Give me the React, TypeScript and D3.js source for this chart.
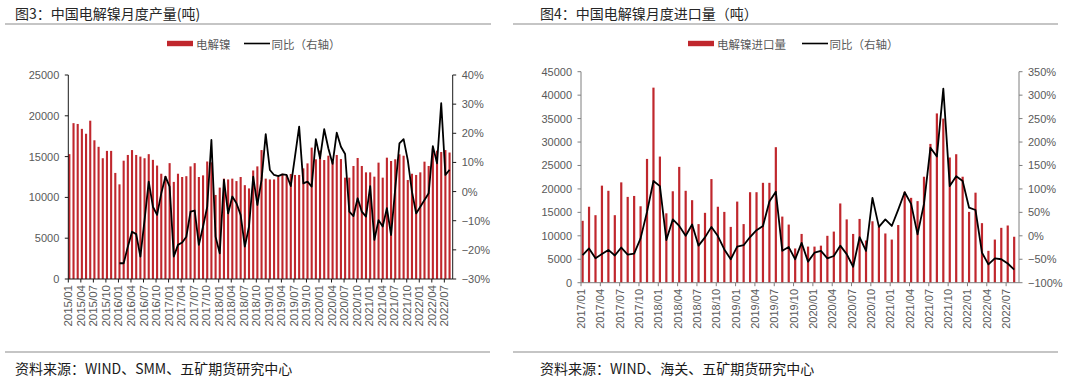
import React from "react";
import * as d3 from "d3";

// ---------- Chart 1 data (2015/01 - 2022/08) ----------
const prodMonths: string[] = (() => {
  const out: string[] = [];
  for (let y = 2015; y <= 2022; y++)
    for (let m = 1; m <= 12; m++) {
      if (y === 2022 && m > 8) break;
      out.push(`${y}/${String(m).padStart(2, "0")}`);
    }
  return out;
})();

const prodValues: number[] = [
  15300, 19100, 19000, 18400, 17800, 19400, 17000, 16200, 14800, 15700, 15700, 13000,
  11600, 14500, 15200, 15800, 15200, 15000, 14800, 15300, 14600, 13900, 12900, 12600,
  14200, 11900, 12900, 12500, 12600, 13800, 14200, 12500, 12700, 14400, 14300, 10300,
  11200, 12300, 12200, 12300, 12000, 12500, 11500, 11100, 13300, 13800, 15800, 12300,
  12200, 12200, 12500, 12900, 12750, 12870, 12750, 12750, 13560, 14170, 16100, 14670,
  15730, 14580, 15110, 14380, 15200, 14700, 12420, 12420, 13850, 14830, 13850, 13070,
  13070, 12540, 14260, 12420, 14870, 14460, 14670, 15280, 15110, 12130, 12900, 12750,
  13070, 14380, 13850, 16000, 15730, 15560, 15800, 15500,
];

// YoY %, null for 2015 (no prior year)
const prodYoY: (number | null)[] = [
  null, null, null, null, null, null, null, null, null, null, null, null,
  -24.6, -24.6, -18.9, -13.8, -14.6, -22.3, -9.8, 3.4, -5.2, -8.0, -0.6, 5.1,
  1.7, -22.3, -18.3, -17.5, -15.5, -6.9, -6.5, -18.3, -12.0, -5.2, 17.7, -15.5,
  -21.2, 4.0, -7.5, -1.7, -4.0, -8.0, -18.9, -12.0, 5.1, -4.6, 4.0, 19.7,
  7.4, 5.7, 5.3, 5.9, 5.7, 1.9, 12.0, 22.3, 2.8, 3.4, 1.7, 18.0,
  11.4, 21.4, 14.8, 9.5, 20.2, 15.4, 12.9, -6.9, -8.4, -2.3, -6.9, -8.6,
  1.9, -16.6, -9.8, -12.0, -5.7, -14.9, 1.1, 16.5, 18.0, 10.8, 0.0, -7.5,
  -5.2, -2.9, -0.6, 15.6, 9.7, 30.3, 5.7, 7.5,
];

const prodLeftTicks: number[] = [0, 5000, 10000, 15000, 20000, 25000];
const prodRightTicks: number[] = [-30, -20, -10, 0, 10, 20, 30, 40];

// ---------- Chart 2 data (2017/01 - 2022/08) ----------
const impMonths: string[] = (() => {
  const out: string[] = [];
  for (let y = 2017; y <= 2022; y++)
    for (let m = 1; m <= 12; m++) {
      if (y === 2022 && m > 8) break;
      out.push(`${y}/${String(m).padStart(2, "0")}`);
    }
  return out;
})();

const impValues: number[] = [
  13200, 16200, 14400, 20700, 19600, 14400, 21400, 18300, 18500, 16300, 26400, 41600,
  26900, 14800, 19500, 24700, 19600, 17600, 12500, 14900, 22100, 16200, 15100, 11900,
  17300, 12500, 19300, 19300, 21300, 21300, 28900, 14100, 12400, 7300, 10400, 7700,
  7700, 7900, 10000, 10900, 16900, 13500, 10400, 13600, 9000, 13100, 11900, 10500,
  9200, 12300, 19400, 18100, 17400, 22600, 29600, 36100, 35000, 26700, 27400, 22600,
  15100, 19200, 12700, 6800, 9200, 11700, 12200, 9800,
];

const impYoY: number[] = [
  -41, -27, -48, -39, -30, -42, -25, -40, -38, -5.5, 51, 117,
  106, -9, 35, 21, 0.2, 24, -21, -3.3, 19, -0.5, -29, -50,
  -23, -20, -2.6, 12, 21, 73, 94, -32, -24, -50, -15, -55,
  -36, -32, -48, -43, -21, -39, -66, -3, -32, 81, 19, 35,
  21, 56, 93, 68, 3, 68, 188, 169, 314, 106, 127, 117,
  60, 55, -36, -61, -48, -50, -59, -72,
];

const impLeftTicks: number[] = [0, 5000, 10000, 15000, 20000, 25000, 30000, 35000, 40000, 45000];
const impRightTicks: number[] = [-100, -50, 0, 50, 100, 150, 200, 250, 300, 350];

const BAR = "#C0272D";
const TXT = "#595959";
const NUMFONT = "Arial, 'Liberation Sans', sans-serif";
const CJK = "'Noto Sans CJK SC', 'Noto Sans', sans-serif";

type ChartProps = {
  months: string[];
  values: number[];
  yoy: (number | null)[];
  leftTicks: number[];
  rightTicks: number[];
  leftDomain: [number, number];
  rightDomain: [number, number];
  x0: number;
  x1: number;
  yTop: number;
  yBot: number;
  barW: number;
  axisColor: string;
  xFont: number;
  labelTop: number;
};

function ComboChart(p: ChartProps) {
  const band = d3
    .scaleBand<string>()
    .domain(p.months)
    .range([p.x0, p.x1])
    .paddingInner(0)
    .paddingOuter(0);
  const step = band.step();
  const px = (m: string) => (band(m) as number) + step * 0.25;
  const yL = d3.scaleLinear().domain(p.leftDomain).range([p.yBot, p.yTop]);
  const yR = d3.scaleLinear().domain(p.rightDomain).range([p.yBot, p.yTop]);

  const lineGen = d3
    .line<number | null>()
    .defined((d) => d !== null)
    .x((_, i) => px(p.months[i]))
    .y((d) => yR(d as number));

  return (
    <g>
      {p.values.map((v, i) => (
        <rect
          key={i}
          x={px(p.months[i]) - p.barW / 2}
          y={yL(v)}
          width={p.barW}
          height={p.yBot - yL(v)}
          fill={BAR}
        />
      ))}
      <path d={lineGen(p.yoy) || ""} fill="none" stroke="#000" strokeWidth={1.8} strokeLinejoin="round" />
      {/* axes */}
      <line x1={p.x0} x2={p.x0} y1={p.yTop} y2={p.yBot} stroke={p.axisColor} strokeWidth={1} />
      <line x1={p.x1} x2={p.x1} y1={p.yTop} y2={p.yBot} stroke={p.axisColor} strokeWidth={1} />
      <line x1={p.x0} x2={p.x1} y1={p.yBot} y2={p.yBot} stroke={p.axisColor} strokeWidth={1} />
      {p.leftTicks.map((t) => (
        <g key={"l" + t}>
          <line x1={p.x0 - 3.5} x2={p.x0} y1={yL(t)} y2={yL(t)} stroke={p.axisColor} />
          <text
            x={p.x0 - 9}
            y={yL(t)}
            textAnchor="end"
            dominantBaseline="central"
            fontSize={11}
            fontFamily={NUMFONT}
            fill={TXT}
          >
            {t}
          </text>
        </g>
      ))}
      {p.rightTicks.map((t) => (
        <g key={"r" + t}>
          <line x1={p.x1} x2={p.x1 + 3.5} y1={yR(t)} y2={yR(t)} stroke={p.axisColor} />
          <text
            x={p.x1 + 9}
            y={yR(t)}
            textAnchor="start"
            dominantBaseline="central"
            fontSize={11}
            fontFamily={NUMFONT}
            fill={TXT}
          >
            {(t < 0 ? "\u2212" + Math.abs(t) : String(t)) + "%"}
          </text>
        </g>
      ))}
      {p.months.map((m, i) =>
        i % 3 === 0 ? (
          <g key={"x" + m}>
            <line
              x1={band(m) as number}
              x2={band(m) as number}
              y1={p.yBot}
              y2={p.yBot + 3.5}
              stroke={p.axisColor}
            />
            <text
              transform={`translate(${band(m) as number},${p.labelTop}) rotate(-90)`}
              textAnchor="end"
              dominantBaseline="central"
              fontSize={p.xFont}
              fontFamily={NUMFONT}
              fill={TXT}
            >
              {m}
            </text>
          </g>
        ) : null
      )}
    </g>
  );
}

function Legend({ x, barLabel, lineX }: { x: number; barLabel: string; lineX: number }) {
  const y = 43.5;
  return (
    <g fontFamily={CJK} fontSize={11.5} fill={TXT}>
      <rect x={x} y={y - 2.7} width={26} height={5.4} fill={BAR} />
      <text x={x + 29} y={y} dominantBaseline="central">
        {barLabel}
      </text>
      <line x1={lineX} x2={lineX + 26} y1={y} y2={y} stroke="#000" strokeWidth={1.6} />
      <text x={lineX + 27.5} y={y} dominantBaseline="central">
        同比（右轴）
      </text>
    </g>
  );
}

export default function App() {
  return (
    <svg
      width={1080}
      height={381}
      style={{ position: "absolute", left: 0, top: 0, background: "#fff" }}
    >
      <rect x={0} y={0} width={1080} height={381} fill="#fff" />
      {/* titles */}
      <text x={15} y={13} dominantBaseline="central" fontSize={14} fontFamily={CJK} fill="#262626">
        图3：中国电解镍月度产量(吨)
      </text>
      <text x={540} y={13} dominantBaseline="central" fontSize={14} fontFamily={CJK} fill="#262626">
        图4：中国电解镍月度进口量（吨）
      </text>
      <line x1={5} x2={491} y1={24} y2={24} stroke="#8c8c8c" strokeWidth={1.2} />
      <line x1={513} x2={1058} y1={24} y2={24} stroke="#8c8c8c" strokeWidth={1.2} />

      <Legend x={167} barLabel="电解镍" lineX={244} />
      <Legend x={688} barLabel="电解镍进口量" lineX={802} />

      <ComboChart
        months={prodMonths}
        values={prodValues}
        yoy={prodYoY}
        leftTicks={prodLeftTicks}
        rightTicks={prodRightTicks}
        leftDomain={[0, 25000]}
        rightDomain={[-30, 40]}
        x0={68.3}
        x1={452.7}
        yTop={75}
        yBot={279}
        barW={2.1}
        axisColor="#1a1a1a"
        xFont={11.5}
        labelTop={285}
      />
      <ComboChart
        months={impMonths}
        values={impValues}
        yoy={impYoY}
        leftTicks={impLeftTicks}
        rightTicks={impRightTicks}
        leftDomain={[0, 45000]}
        rightDomain={[-100, 350]}
        x0={581}
        x1={1019}
        yTop={71.7}
        yBot={282.7}
        barW={2.2}
        axisColor="#7f7f7f"
        xFont={11}
        labelTop={289}
      />

      {/* footer */}
      <line x1={5} x2={490} y1={352} y2={352} stroke="#8c8c8c" strokeWidth={1.2} />
      <line x1={513} x2={1058} y1={352} y2={352} stroke="#8c8c8c" strokeWidth={1.2} />
      <text x={15} y={368} dominantBaseline="central" fontSize={14} fontFamily={CJK} fill="#1a1a1a">
        资料来源：WIND、SMM、五矿期货研究中心
      </text>
      <text x={540} y={368} dominantBaseline="central" fontSize={14} fontFamily={CJK} fill="#1a1a1a">
        资料来源：WIND、海关、五矿期货研究中心
      </text>
    </svg>
  );
}
